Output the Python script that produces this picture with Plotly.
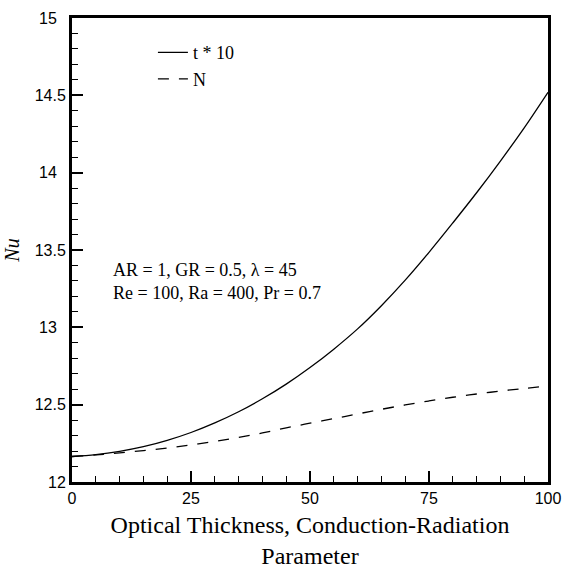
import plotly.graph_objects as go

x_vals = [0, 5, 10, 15, 20, 25, 30, 35, 40, 45, 50, 55, 60, 65, 70, 75, 80, 85, 90, 95, 100]
nu_t10 = [12.165, 12.177, 12.198, 12.228, 12.269, 12.320, 12.382, 12.454, 12.538, 12.633, 12.740,
          12.859, 12.990, 13.140, 13.305, 13.485, 13.675, 13.870, 14.075, 14.290, 14.520]
nu_N = [12.165, 12.175, 12.188, 12.203, 12.220, 12.240, 12.262, 12.288, 12.317, 12.350, 12.380,
        12.410, 12.440, 12.470, 12.498, 12.524, 12.548, 12.569, 12.588, 12.605, 12.620]

x_ticks = [0, 25, 50, 75, 100]
x_ticktext = ["0", "25", "50", "75", "100"]
y_ticks = [12, 12.5, 13, 13.5, 14, 14.5, 15]
y_ticktext = ["12", "12.5", "13\u00a0\u00a0", "13.5", "14\u00a0\u00a0", "14.5", "15\u00a0\u00a0"]

series_names = ["t * 10", "N"]
info_lines = ["AR = 1, GR = 0.5, λ = 45", "Re = 100, Ra = 400, Pr = 0.7"]

serif = "Liberation Serif, Times New Roman, serif"
sans = "Liberation Sans, Arial, sans-serif"

fig = go.Figure()
fig.add_trace(go.Scatter(x=x_vals, y=nu_t10, mode="lines", name=series_names[0],
                         line=dict(color="black", width=1.3, shape="spline")))
fig.add_trace(go.Scatter(x=x_vals, y=nu_N, mode="lines", name=series_names[1],
                         line=dict(color="black", width=1.3, dash="11px,10px", shape="spline")))

fig.add_annotation(x=0.082, y=0.433, xref="paper", yref="paper", xanchor="left", yanchor="middle",
                   text=info_lines[0] + "<br>" + info_lines[1], showarrow=False, align="left",
                   font=dict(family=serif, size=18, color="black"))

axis_common = dict(showline=True, linewidth=3, linecolor="black", mirror=True, automargin=False,
                   showgrid=False, zeroline=False, ticks="inside", tickcolor="black")

fig.update_xaxes(range=[0, 100], tickvals=x_ticks, ticktext=x_ticktext, ticklen=11, tickwidth=2,
                 minor=dict(dtick=5, ticks="inside", ticklen=6, tickwidth=1, tickcolor="black"),
                 tickfont=dict(family=sans, size=16, color="black"),
                 title=dict(text="Optical Thickness, Conduction-Radiation<br>Parameter",
                            font=dict(family=serif, size=24, color="black"), standoff=10),
                 **axis_common)
fig.update_yaxes(range=[12, 15], tickvals=y_ticks, ticktext=y_ticktext, ticklen=11, tickwidth=2,
                 minor=dict(dtick=0.1, ticks="inside", ticklen=6, tickwidth=1, tickcolor="black"),
                 tickfont=dict(family=sans, size=16, color="black"),
                 title=dict(text="<i>Nu</i>", font=dict(family=serif, size=20, color="black"), standoff=10),
                 **axis_common)

fig.update_layout(width=563, height=572, margin=dict(l=72, r=15, t=18, b=90),
                  paper_bgcolor="white", plot_bgcolor="white",
                  showlegend=True,
                  legend=dict(x=0.17, y=0.965, xanchor="left", yanchor="top",
                              bgcolor="rgba(0,0,0,0)", tracegroupgap=0,
                              font=dict(family=serif, size=18, color="black")))

fig.write_html("out.html")
